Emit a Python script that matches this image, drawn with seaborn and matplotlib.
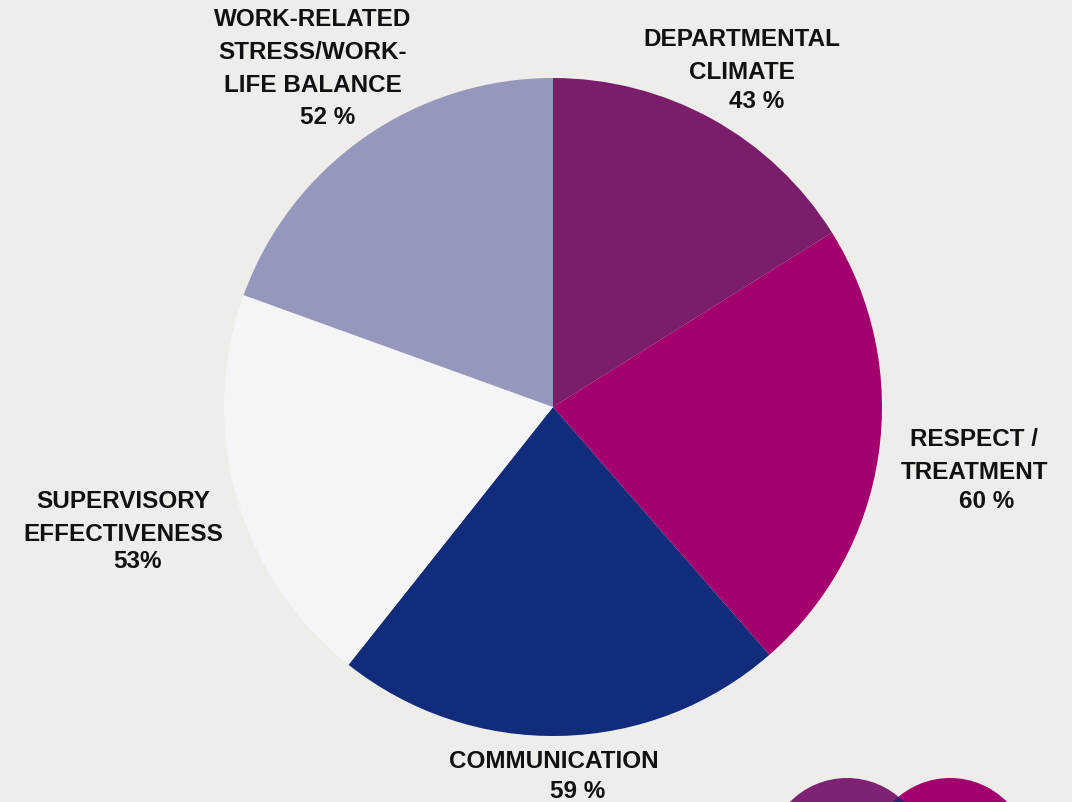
import matplotlib
matplotlib.use("Agg")
import matplotlib.pyplot as plt
from matplotlib.patches import Circle
import seaborn as sns

# Survey areas and share of favourable responses
categories = ["DEPARTMENTAL\nCLIMATE", "RESPECT /\nTREATMENT", "COMMUNICATION",
              "SUPERVISORY\nEFFECTIVENESS", "WORK-RELATED\nSTRESS/WORK-\nLIFE BALANCE"]
values = [43, 60, 59, 53, 52]
pct_labels = ["43 %", "60 %", "59 %", "53%", "52 %"]

slice_colors = ["#7A1E6C", "#A3006E", "#112C7B", "#F5F5F8", "#9597BD"]
bg = "#EEEDE9"

sns.set_theme(style="white")
plt.rcParams["font.family"] = ["Liberation Sans", "DejaVu Sans"]

W, H = 1072, 803
fig = plt.figure(figsize=(W / 100, H / 100), dpi=100, facecolor=bg)
ax = fig.add_axes([0, 0, 1, 1])
ax.set_facecolor(bg)

palette = sns.color_palette(slice_colors)
ax.pie(values, colors=palette, startangle=90, counterclock=False,
       center=(553, H - 408), radius=329, frame=True,
       wedgeprops=dict(linewidth=0))
ax.set_xlim(0, W)
ax.set_ylim(0, H)
ax.set_aspect("equal")
ax.axis("off")

# decorative overlapping discs in the lower right corner
c1 = Circle((847, H - 859), 80, color="#7E2374", lw=0, zorder=3)
c2 = Circle((950, H - 859), 80, color="#A3006E", lw=0, zorder=4)
ax.add_patch(c1)
ax.add_patch(c2)
lens = Circle((847, H - 859), 80, color="#2B2470", lw=0, zorder=5)
ax.add_patch(lens)
lens.set_clip_path(c2)

fs = 17.5
lab_kw = dict(fontsize=fs, fontweight="bold", color="#111111",
              ha="center", va="center")

# (label centre x, first-line y, pct x, pct y) in pixels from top-left
positions = [
    (742, 40, 757, 102),
    (974, 440, 987, 502),
    (554, 762, 578, 792),
    (123, 502, 138, 562),
    (313, 20, 328, 118),
]
for cat, pct, (lx, ly, px, py) in zip(categories, pct_labels, positions):
    lines = cat.split("\n")
    for i, line in enumerate(lines):
        ax.text(lx, H - (ly + i * 32.5), line, **lab_kw)
    ax.text(px, H - py, pct, **lab_kw)

fig.savefig("out.png", dpi=100, facecolor=bg)
